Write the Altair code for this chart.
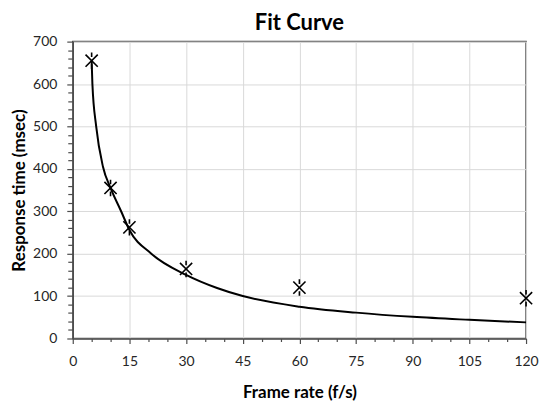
import altair as alt
import pandas as pd

# Measured points
frame_rate = [5, 10, 15, 30, 60, 120]
response_ms = [655, 355, 262, 164, 120, 95]

# Fit curve
curve_x = [5, 5.2, 6.2, 8, 10, 12.8, 15, 20.8, 30, 38.2, 45, 60, 75, 90, 105, 120]
curve_y = [655, 600, 500, 405, 355, 300, 256, 200, 150, 119, 100, 75, 61, 51, 44, 38]

x_ticks = list(range(0, 121, 5))
y_ticks = list(range(0, 701, 20))

pts = pd.DataFrame({"x": frame_rate, "y": response_ms})
fit = pd.DataFrame({"x": curve_x, "y": curve_y})

FONT = "Lato"
AX = "#4d4d4d"

x_scale = alt.Scale(domain=[0, 120], nice=False, zero=False)
y_scale = alt.Scale(domain=[0, 700], nice=False)

x_axis = alt.Axis(
    title="Frame rate (f/s)",
    values=x_ticks,
    labelExpr="datum.value % 15 === 0 ? datum.label : ''",
    labelOverlap=False,
    labelFlush=False,
    labelPadding=11,
    titlePadding=16,
    gridOpacity={"condition": {"test": "datum.value % 15 === 0", "value": 1}, "value": 0},
    tickSize={"condition": {"test": "datum.value % 15 === 0", "value": 5}, "value": 3},
)
y_axis = alt.Axis(
    title="Response time (msec)",
    values=y_ticks,
    labelExpr="datum.value % 100 === 0 ? datum.label : ''",
    labelOverlap=False,
    labelFlush=False,
    labelPadding=10,
    titlePadding=4,
    gridOpacity={"condition": {"test": "datum.value % 100 === 0", "value": 1}, "value": 0},
    tickSize={"condition": {"test": "datum.value % 100 === 0", "value": 6}, "value": 5},
)

enc_x = alt.X("x:Q", scale=x_scale, axis=x_axis)
enc_y = alt.Y("y:Q", scale=y_scale, axis=y_axis)

line = alt.Chart(fit).mark_line(color="black", strokeWidth=2, interpolate="monotone").encode(
    x=enc_x, y=enc_y,
)

star = "M-1,-1L1,1M-1,1L1,-1M0,-1.35L0,-0.6M0,0.6L0,1.35"
points = alt.Chart(pts).mark_point(
    shape=star, size=150, filled=False, color="black", strokeWidth=1.6, opacity=1
).encode(
    x=enc_x, y=enc_y,
)

chart = (
    alt.layer(line, points)
    .properties(
        width=455,
        height=298,
        title=alt.TitleParams("Fit Curve", font=FONT, fontSize=22, fontWeight="bold", color="black", offset=0, anchor="middle"),
        padding={"left": 2, "top": 3, "right": 0, "bottom": 0},
    )
    .configure_view(stroke=AX, strokeWidth=1.5)
    .configure_axis(
        labelFont=FONT,
        labelFontSize=14,
        labelColor="#262626",
        titleFont=FONT,
        titleFontSize=17,
        titleFontWeight="bold",
        titleColor="black",
        domainColor=AX,
        domainWidth=1.5,
        tickColor=AX,
        tickWidth=1.2,
        gridColor="#d9d9d9",
        gridWidth=1,
    )
)

chart.save("out.html", embed_options={"renderer": "svg", "actions": False})
